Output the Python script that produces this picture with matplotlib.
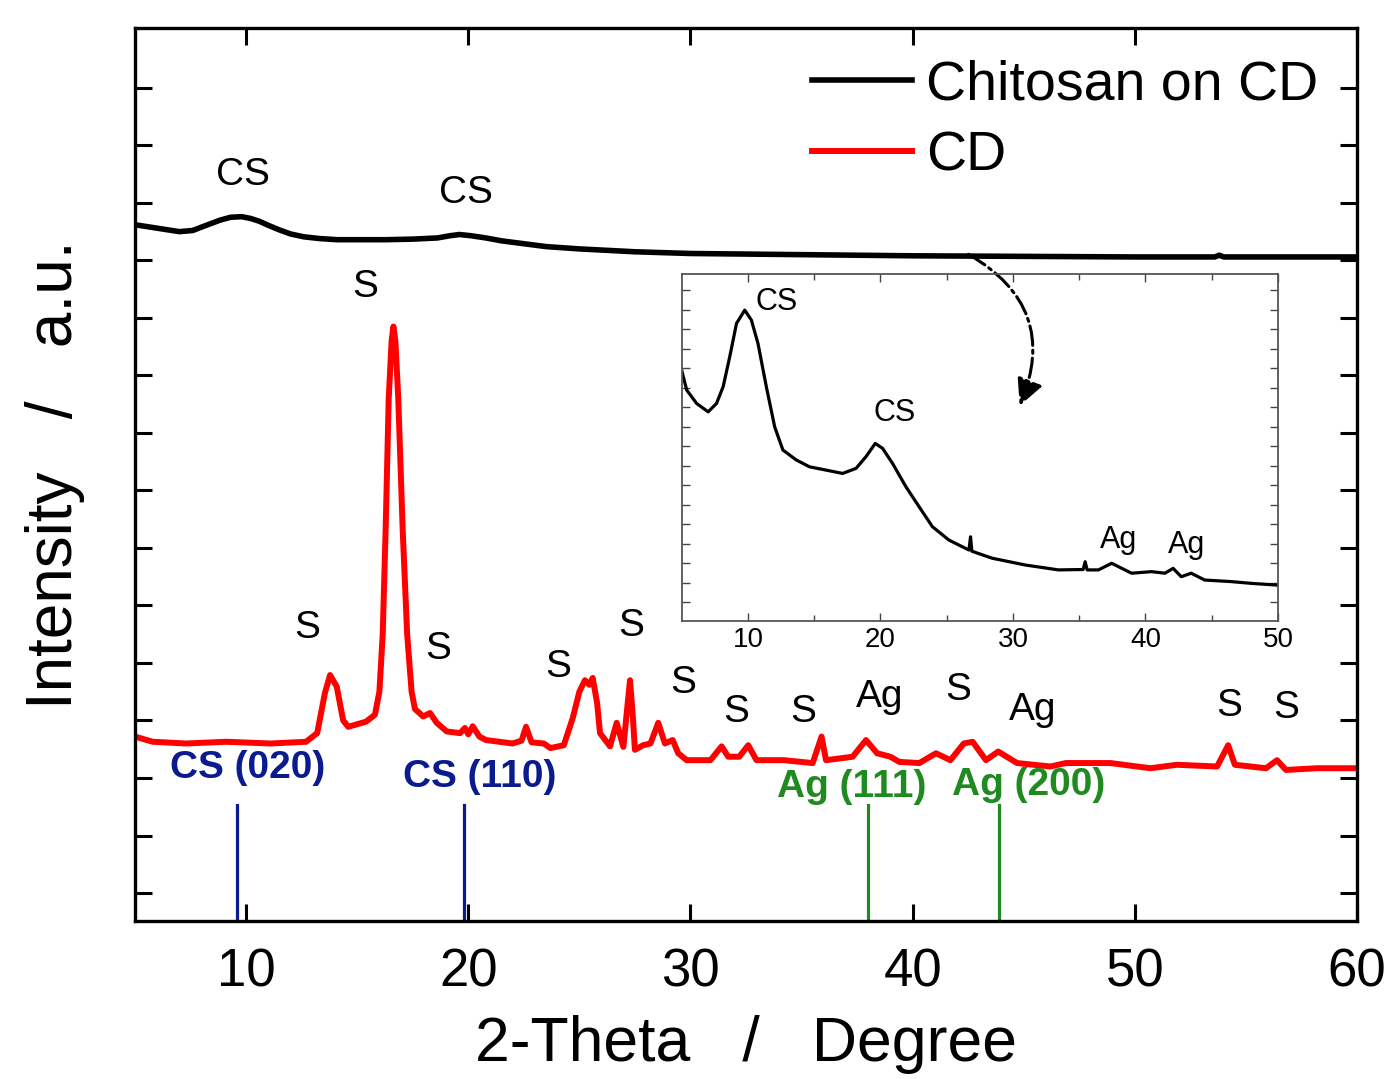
import matplotlib
matplotlib.use('Agg')
import matplotlib.pyplot as plt
import numpy as np

plt.rcParams['font.family'] = ['Liberation Sans', 'DejaVu Sans']

# CD (red) pattern (y in arbitrary offset units)
cd_x = [5.0, 5.8, 7.3, 9.1, 11.1, 12.7, 13.2, 13.55, 13.78, 14.08, 14.37, 14.6, 15.4, 15.8, 16.0,
        16.15, 16.28, 16.42, 16.55, 16.63, 16.72, 16.85, 17.05, 17.25, 17.45, 17.6, 17.97, 18.28,
        18.58, 19.03, 19.63, 19.85, 20.0, 20.2, 20.5, 20.8, 22.0, 22.4, 22.6, 22.85, 23.4, 23.7,
        24.3, 24.7, 25.0, 25.25, 25.45, 25.6, 25.8, 25.93, 26.38, 26.68, 26.98, 27.15, 27.28, 27.4,
        27.5, 27.87, 28.2, 28.55, 28.85, 29.2, 29.45, 29.83, 30.9, 31.4, 31.7, 32.2, 32.6, 32.97,
        34.2, 35.5, 35.9, 36.1, 37.3, 37.9, 38.4, 39.0, 39.4, 40.3, 41.05, 41.7, 42.3, 42.7, 43.3,
        43.85, 44.7, 46.2, 46.9, 48.9, 50.7, 51.9, 53.7, 54.2, 54.5, 55.9, 56.4, 56.8, 58.2, 60.0]
cd_y = [2.72, 2.63, 2.60, 2.63, 2.60, 2.63, 2.78, 3.48, 3.79, 3.59, 3.00, 2.89, 2.98, 3.10, 3.50,
        4.50, 6.30, 8.60, 9.60, 9.85, 9.60, 8.60, 6.30, 4.50, 3.50, 3.20, 3.07, 3.13,
        2.96, 2.81, 2.78, 2.87, 2.76, 2.90, 2.72, 2.66, 2.60, 2.65, 2.89, 2.62, 2.60, 2.52,
        2.57, 3.04, 3.50, 3.70, 3.62, 3.74, 3.30, 2.78, 2.55, 2.96, 2.54, 3.20, 3.70, 3.10,
        2.49, 2.57, 2.60, 2.96, 2.60, 2.66, 2.43, 2.31, 2.31, 2.55, 2.37, 2.37, 2.57, 2.31,
        2.31, 2.26, 2.72, 2.31, 2.37, 2.66, 2.43, 2.37, 2.28, 2.26, 2.43, 2.31, 2.60, 2.63, 2.31,
        2.46, 2.26, 2.20, 2.26, 2.26, 2.17, 2.23, 2.20, 2.57, 2.23, 2.17, 2.31, 2.14, 2.17, 2.17]

# Chitosan on CD (black) pattern
cs_x = [5.0, 6.0, 7.0, 7.6, 8.07, 8.83, 9.3, 9.8, 10.2, 10.6, 11.0, 11.5, 12.0, 12.6, 13.3, 14.1,
        16.3, 17.5, 18.6, 19.2, 19.6, 20.1, 20.8, 21.5, 22.3, 23.5, 25.0, 27.5, 30.0, 35.0, 40.0,
        45.0, 50.0, 53.6, 53.8, 54.0, 55.0, 60.0]
cs_y = [11.62, 11.56, 11.50, 11.52, 11.59, 11.70, 11.75, 11.76, 11.73, 11.68, 11.61, 11.53, 11.46, 11.41,
        11.38, 11.36, 11.36, 11.37, 11.39, 11.43, 11.45, 11.43, 11.39, 11.34, 11.30, 11.24, 11.20, 11.15,
        11.12, 11.10, 11.08, 11.07, 11.06, 11.06, 11.09, 11.06, 11.06, 11.06]

# inset: zoomed Chitosan on CD pattern
in_x = [5.0, 5.38, 6.13, 7.0, 7.63, 8.13, 8.63, 9.14, 9.76, 10.26, 10.76, 11.39, 12.02, 12.64,
        13.65, 14.65, 15.9, 17.15, 18.16, 18.91, 19.61, 20.16, 20.91, 21.92, 22.92, 23.92, 25.17,
        26.68, 26.8, 26.9, 28.43, 30.94, 33.44, 35.3, 35.45, 35.6, 36.45, 37.45, 38.95, 40.46,
        41.47, 42.09, 42.7, 43.45, 44.47, 46.47, 47.98, 49.74, 50.0]
in_y = [11.91, 10.89, 10.2, 9.77, 10.2, 11.06, 12.6, 14.31, 14.99, 14.48, 13.28, 11.06, 9.0, 7.81,
        7.3, 6.95, 6.78, 6.61, 6.87, 7.47, 8.15, 7.9, 7.13, 5.93, 4.9, 3.88, 3.19,
        2.68, 3.36, 2.62, 2.26, 1.91, 1.66, 1.68, 2.08, 1.66, 1.66, 2.0, 1.49, 1.57,
        1.49, 1.74, 1.31, 1.49, 1.14, 1.06, 0.97, 0.89, 0.88]

# peak labels on the patterns
s_labels = ['CS', 'CS', 'S', 'S', 'S', 'S', 'S', 'S', 'S', 'S', 'Ag', 'S', 'Ag', 'S', 'S']
s_x = [9.86, 19.9, 12.74, 15.35, 18.64, 24.04, 27.32, 29.66, 32.05, 35.06, 38.53, 42.04, 45.41, 54.23, 56.8]
s_y = [12.49, 12.17, 4.61, 10.54, 4.24, 3.93, 4.64, 3.65, 3.15, 3.15, 3.41, 3.53, 3.18, 3.25, 3.22]

# reference reflections
ref_names = ['CS (020)', 'CS (110)', 'Ag (111)', 'Ag (200)']
ref_pos = [9.6, 19.8, 38.0, 43.9]
ref_colors = ['#0a1a8f', '#0a1a8f', '#1f8a1f', '#1f8a1f']
ref_lab_x = [10.09, 20.5, 37.27, 45.2]
ref_lab_y = [2.17, 2.02, 1.84, 1.88]

in_labels = ['CS', 'CS', 'Ag', 'Ag']
in_lab_x = [12.16, 21.04, 37.96, 43.07]
in_lab_y = [15.4, 9.71, 3.19, 2.94]

fig = plt.figure(figsize=(13.9, 10.79), dpi=100)
ax = fig.add_axes([0.0971, 0.1464, 0.8792, 0.8276])

ax.plot(cs_x, cs_y, color='black', lw=4, label='Chitosan on CD')
ax.plot(cd_x, cd_y, color='#ff0000', lw=4.3, label='CD')

for xp, c in zip(ref_pos, ref_colors):
    ax.plot([xp, xp], [-0.6, 1.53], color=c, lw=2.3)
for name, xl, yl, c in zip(ref_names, ref_lab_x, ref_lab_y, ref_colors):
    ax.text(xl, yl, name, color=c, fontsize=28, fontweight='bold', ha='center', va='center')
for lab, xl, yl in zip(s_labels, s_x, s_y):
    ax.text(xl, yl, lab, fontsize=28, ha='center', va='center')

ax.set_xlim(5, 60)
ax.set_ylim(-0.487, 15.04)
ax.set_xticks([10, 20, 30, 40, 50, 60])
ax.set_yticks(np.arange(0, 15))
ax.set_yticklabels([])
ax.tick_params(direction='in', length=12, width=2.2, top=True, right=True, labelsize=38, pad=19)
ax.tick_params(axis='y', labelleft=False)
for sp in ax.spines.values():
    sp.set_linewidth(2.4)
ax.set_xlabel('2-Theta   /   Degree', fontsize=45, labelpad=13)
ax.set_ylabel('Intensity   /   a.u.', fontsize=46, labelpad=36)

ax.legend(loc='upper right', bbox_to_anchor=(0.968, 0.965), frameon=False, fontsize=40,
          handlelength=1.8, handletextpad=0.25, labelspacing=0.35, borderpad=0, borderaxespad=0)

# curved dash-dot arrow from the black curve into the inset
ax.annotate('', xy=(44.77, 8.43), xytext=(42.4, 11.13),
            arrowprops=dict(arrowstyle='-|>', linestyle='-.', lw=2.2, color='black',
                            connectionstyle='arc3,rad=-0.45', mutation_scale=40))

# inset
axi = fig.add_axes([0.4904, 0.4245, 0.4290, 0.3215])
axi.patch.set_alpha(0)
axi.plot(in_x, in_y, color='black', lw=2.3)
for lab, xl, yl in zip(in_labels, in_lab_x, in_lab_y):
    axi.text(xl, yl, lab, fontsize=22, ha='center', va='center')
axi.set_xlim(5, 50)
axi.set_ylim(-0.96, 16.84)
axi.set_xticks([10, 20, 30, 40, 50])
axi.set_xticks([15, 25, 35, 45], minor=True)
axi.set_yticks(np.arange(0, 17))
axi.tick_params(direction='in', length=6, width=1, top=True, right=True, labelsize=20,
                labelleft=False, pad=4, colors='#444444', labelcolor='black')
axi.tick_params(which='minor', direction='in', length=4, width=1, top=True, colors='#444444')
for sp in axi.spines.values():
    sp.set_linewidth(1.3)
    sp.set_color('#555555')

fig.savefig('out.png', dpi=100)
